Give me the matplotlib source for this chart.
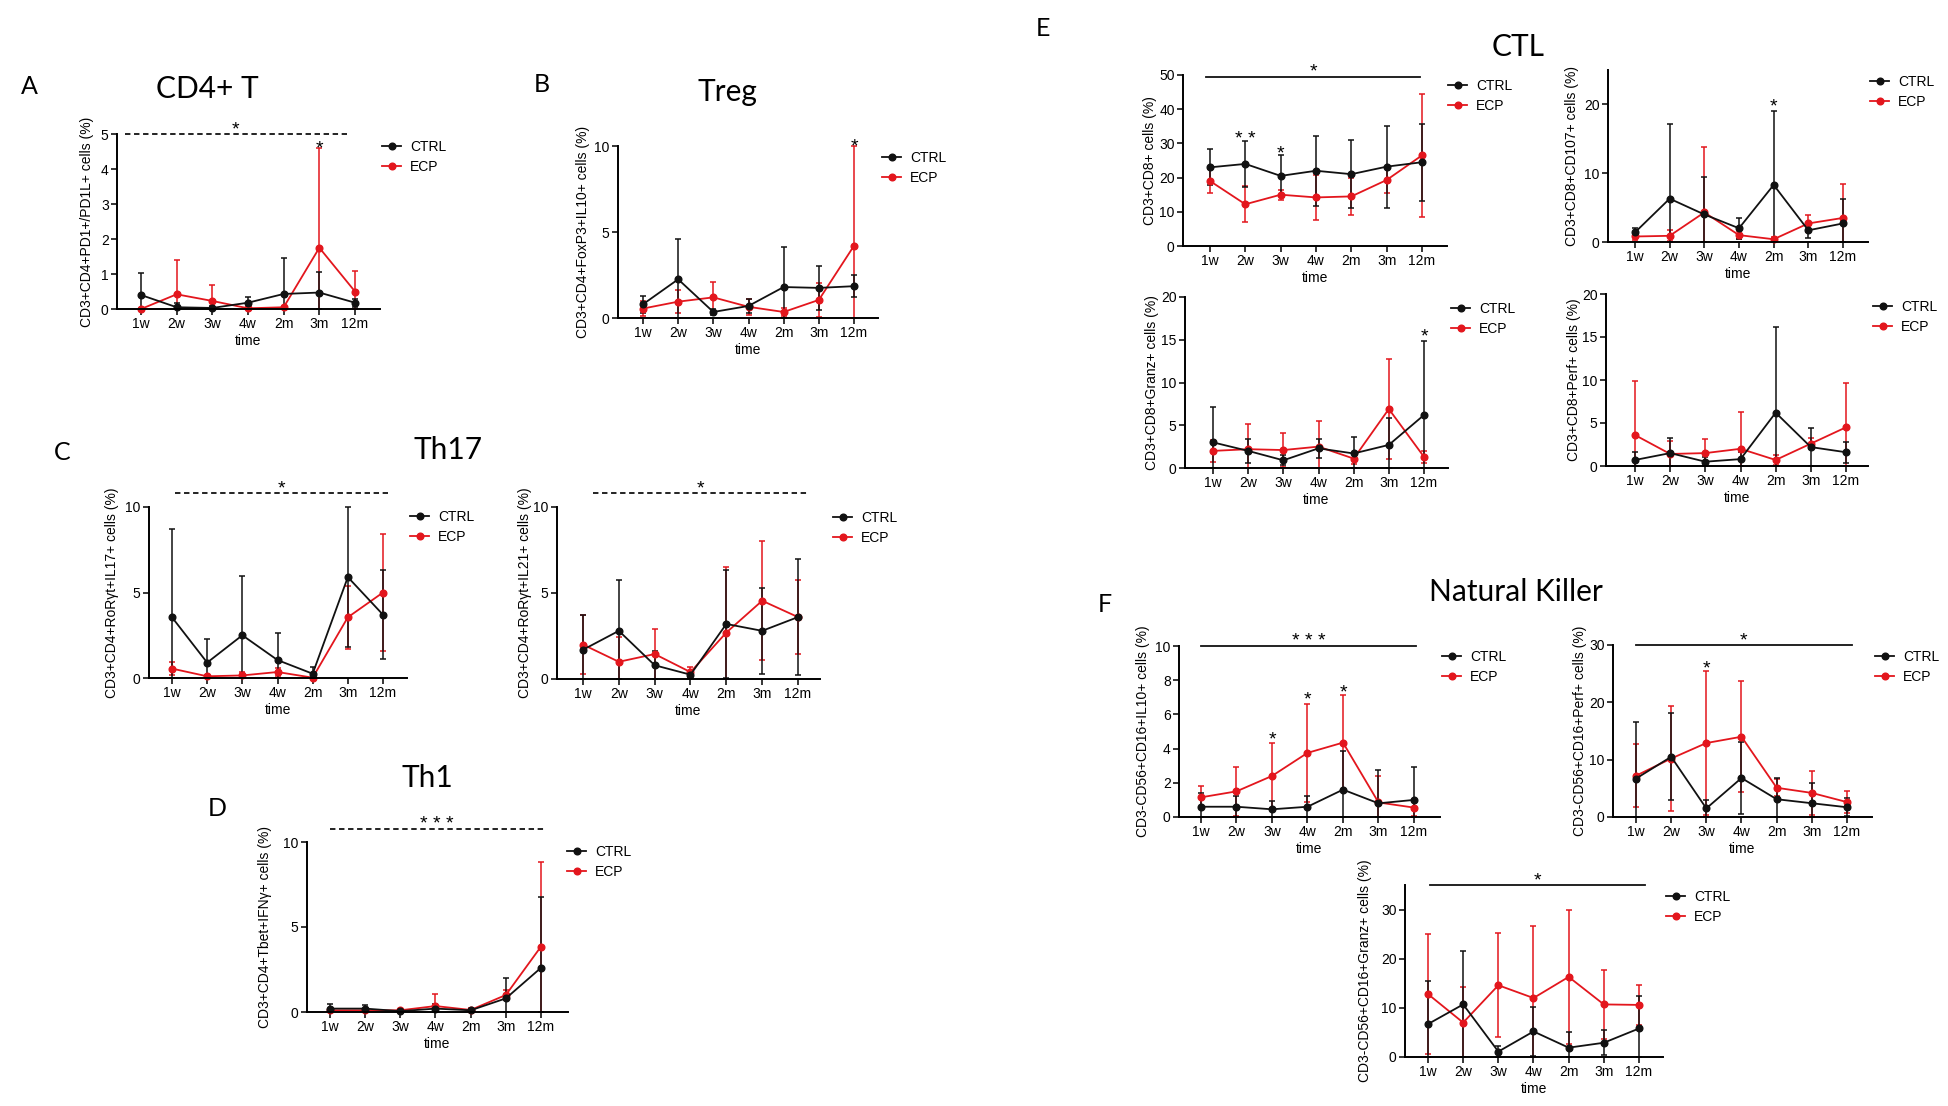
import matplotlib
matplotlib.use('Agg')
import matplotlib.pyplot as plt
from matplotlib.lines import Line2D

plt.rcParams['font.family'] = ['Liberation Sans', 'DejaVu Sans']

W, H = 1949, 1106
RED = '#e3161d'
BLACK = '#111111'

time_labels = ['1w', '2w', '3w', '4w', '2m', '3m', '12m']

# A  CD4+ T
a_label = 'CD3+CD4+PD1+/PD1L+ cells (%)'
a_ctrl = [0.40, 0.05, 0.03, 0.18, 0.43, 0.47, 0.18]
a_ctrl_sd = [0.63, 0.12, 0.05, 0.17, 1.04, 0.58, 0.12]
a_ecp = [0.00, 0.42, 0.23, 0.02, 0.05, 1.75, 0.50]
a_ecp_sd = [0.02, 0.98, 0.47, 0.03, 0.03, 2.85, 0.60]

# B  Treg
b_label = 'CD3+CD4+FoxP3+IL10+ cells (%)'
b_ctrl = [0.80, 2.25, 0.35, 0.70, 1.80, 1.75, 1.85]
b_ctrl_sd = [0.50, 2.35, 0.15, 0.40, 2.35, 1.30, 0.65]
b_ecp = [0.55, 0.95, 1.20, 0.65, 0.35, 1.05, 4.20]
b_ecp_sd = [0.45, 0.65, 0.90, 0.45, 0.25, 1.00, 5.80]

# C  Th17 (IL17 / IL21)
c1_label = 'CD3+CD4+RoRγt+IL17+ cells (%)'
c1_ctrl = [3.55, 0.90, 2.50, 1.05, 0.25, 5.90, 3.70]
c1_ctrl_sd = [5.15, 1.40, 3.45, 1.60, 0.40, 4.10, 2.60]
c1_ecp = [0.55, 0.10, 0.15, 0.35, 0.02, 3.55, 5.00]
c1_ecp_sd = [0.40, 0.10, 0.20, 0.25, 0.05, 1.85, 3.45]

c2_label = 'CD3+CD4+RoRγt+IL21+ cells (%)'
c2_ctrl = [1.70, 2.80, 0.80, 0.25, 3.20, 2.80, 3.60]
c2_ctrl_sd = [2.05, 2.95, 0.85, 0.20, 3.15, 2.50, 3.35]
c2_ecp = [2.00, 1.00, 1.45, 0.40, 2.70, 4.55, 3.60]
c2_ecp_sd = [1.70, 1.45, 1.45, 0.30, 3.80, 3.45, 2.15]

# D  Th1
d_label = 'CD3+CD4+Tbet+IFNγ+ cells (%)'
d_ctrl = [0.20, 0.20, 0.05, 0.20, 0.10, 0.80, 2.60]
d_ctrl_sd = [0.25, 0.20, 0.05, 0.30, 0.10, 1.20, 4.15]
d_ecp = [0.10, 0.10, 0.10, 0.35, 0.12, 1.00, 3.85]
d_ecp_sd = [0.10, 0.10, 0.10, 0.70, 0.10, 0.30, 4.95]

# E  CTL
e1_label = 'CD3+CD8+ cells (%)'
e1_ctrl = [23.0, 24.0, 20.5, 22.0, 21.0, 23.2, 24.5]
e1_ctrl_sd = [5.3, 6.8, 6.0, 10.2, 10.0, 12.0, 11.2]
e1_ecp = [19.0, 12.2, 15.0, 14.2, 14.5, 19.3, 26.5]
e1_ecp_sd = [3.5, 5.2, 1.5, 6.5, 5.3, 3.8, 18.0]

e2_label = 'CD3+CD8+CD107+ cells (%)'
e2_ctrl = [1.4, 6.3, 4.0, 2.0, 8.3, 1.7, 2.7]
e2_ctrl_sd = [0.6, 10.9, 5.5, 1.5, 10.7, 1.1, 3.5]
e2_ecp = [0.8, 0.9, 4.3, 1.0, 0.4, 2.7, 3.5]
e2_ecp_sd = [0.5, 0.8, 9.5, 0.6, 0.3, 1.2, 4.9]

e3_label = 'CD3+CD8+Granz+ cells (%)'
e3_ctrl = [3.0, 2.0, 0.9, 2.3, 1.7, 2.7, 6.2]
e3_ctrl_sd = [4.1, 1.4, 0.6, 1.1, 1.9, 3.2, 8.7]
e3_ecp = [2.0, 2.2, 2.1, 2.5, 1.1, 6.9, 1.3]
e3_ecp_sd = [1.3, 2.9, 2.0, 3.0, 0.6, 5.8, 0.7]

e4_label = 'CD3+CD8+Perf+ cells (%)'
e4_ctrl = [0.7, 1.5, 0.5, 0.8, 6.2, 2.2, 1.6]
e4_ctrl_sd = [0.9, 1.8, 0.5, 0.8, 10.0, 2.2, 1.2]
e4_ecp = [3.6, 1.4, 1.5, 2.0, 0.7, 2.6, 4.5]
e4_ecp_sd = [6.3, 1.5, 1.6, 4.3, 0.6, 0.6, 5.1]

# F  Natural Killer
f1_label = 'CD3-CD56+CD16+IL10+ cells (%)'
f1_ctrl = [0.60, 0.60, 0.45, 0.60, 1.60, 0.80, 1.00]
f1_ctrl_sd = [0.80, 0.60, 0.50, 0.60, 2.25, 1.95, 1.95]
f1_ecp = [1.15, 1.50, 2.40, 3.75, 4.35, 0.85, 0.55]
f1_ecp_sd = [0.65, 1.45, 1.90, 2.85, 2.80, 1.55, 0.50]

f2_label = 'CD3-CD56+CD16+Perf+ cells (%)'
f2_ctrl = [6.7, 10.5, 1.5, 6.8, 3.1, 2.4, 1.7]
f2_ctrl_sd = [9.8, 7.6, 1.5, 6.2, 3.7, 3.6, 1.6]
f2_ecp = [7.2, 10.2, 12.9, 14.0, 5.1, 4.2, 2.6]
f2_ecp_sd = [5.5, 9.2, 12.6, 9.7, 1.5, 3.9, 1.9]

f3_label = 'CD3-CD56+CD16+Granz+ cells (%)'
f3_ctrl = [6.7, 10.7, 1.1, 5.2, 1.9, 2.9, 5.8]
f3_ctrl_sd = [8.8, 10.8, 1.1, 5.0, 3.2, 2.5, 6.7]
f3_ecp = [12.8, 7.0, 14.6, 12.0, 16.3, 10.7, 10.6]
f3_ecp_sd = [12.2, 7.3, 10.6, 14.6, 13.7, 7.1, 4.0]

# layout in pixels: (spine left, axis right, y=0 row, y=max row, 1w tick, 12m tick)
panels = [
    dict(data=(a_ctrl, a_ctrl_sd, a_ecp, a_ecp_sd), ylabel=a_label,
         box=(117, 380, 309, 134, 141, 355), ymax=5, yticks=[0, 1, 2, 3, 4, 5],
         ylab_x=87, legend=(382, 157),
         bracket=('--', 5.0, -0.45, 5.77, '*'), stars=[(5, 4.75, '*')]),
    dict(data=(b_ctrl, b_ctrl_sd, b_ecp, b_ecp_sd), ylabel=b_label,
         box=(618, 878, 318, 146, 643, 854), ymax=10, yticks=[0, 5, 10],
         ylab_x=583, legend=(882, 168), bracket=None, stars=[(6, 10.3, '*')]),
    dict(data=(c1_ctrl, c1_ctrl_sd, c1_ecp, c1_ecp_sd), ylabel=c1_label,
         box=(149, 407, 678, 507, 172, 383), ymax=10, yticks=[0, 5, 10],
         ylab_x=112, legend=(410, 527),
         bracket=('--', 10.8, 0.09, 6.14, '*'), stars=[]),
    dict(data=(c2_ctrl, c2_ctrl_sd, c2_ecp, c2_ecp_sd), ylabel=c2_label,
         box=(557, 820, 679, 507, 583, 798), ymax=10, yticks=[0, 5, 10],
         ylab_x=525, legend=(833, 528),
         bracket=('--', 10.8, 0.28, 6.27, '*'), stars=[]),
    dict(data=(d_ctrl, d_ctrl_sd, d_ecp, d_ecp_sd), ylabel=d_label,
         box=(307, 568, 1012, 842, 330, 541), ymax=10, yticks=[0, 5, 10],
         ylab_x=265, legend=(567, 862),
         bracket=('--', 10.76, 0.0, 6.1, '* * *'), stars=[]),
    dict(data=(e1_ctrl, e1_ctrl_sd, e1_ecp, e1_ecp_sd), ylabel=e1_label,
         box=(1183, 1447, 246, 75, 1210, 1422), ymax=50, yticks=[0, 10, 20, 30, 40, 50],
         ylab_x=1150, legend=(1448, 96),
         bracket=('-', 49.5, -0.1, 5.95, '*'), stars=[(1, 33.0, '* *'), (2, 28.7, '*')]),
    dict(data=(e2_ctrl, e2_ctrl_sd, e2_ecp, e2_ecp_sd), ylabel=e2_label,
         box=(1608, 1868, 242, 70, 1635, 1843), ymax=25, yticks=[0, 10, 20],
         ylab_x=1572, legend=(1870, 92), bracket=None, stars=[(4, 20.6, '*')]),
    dict(data=(e3_ctrl, e3_ctrl_sd, e3_ecp, e3_ecp_sd), ylabel=e3_label,
         box=(1185, 1448, 468, 297, 1213, 1424), ymax=20, yticks=[0, 5, 10, 15, 20],
         ylab_x=1152, legend=(1451, 319), bracket=None, stars=[(6, 16.1, '*')]),
    dict(data=(e4_ctrl, e4_ctrl_sd, e4_ecp, e4_ecp_sd), ylabel=e4_label,
         box=(1606, 1868, 466, 294, 1635, 1846), ymax=20, yticks=[0, 5, 10, 15, 20],
         ylab_x=1574, legend=(1873, 317), bracket=None, stars=[]),
    dict(data=(f1_ctrl, f1_ctrl_sd, f1_ecp, f1_ecp_sd), ylabel=f1_label,
         box=(1179, 1440, 817, 646, 1201, 1414), ymax=10, yticks=[0, 2, 4, 6, 8, 10],
         ylab_x=1143, legend=(1442, 667),
         bracket=('-', 10.0, 0.0, 6.05, '* * *'),
         stars=[(2, 4.9, '*'), (3, 7.25, '*'), (4, 7.65, '*')]),
    dict(data=(f2_ctrl, f2_ctrl_sd, f2_ecp, f2_ecp_sd), ylabel=f2_label,
         box=(1613, 1872, 817, 645, 1636, 1847), ymax=30, yticks=[0, 10, 20, 30],
         ylab_x=1580, legend=(1875, 667),
         bracket=('-', 30.0, 0.0, 6.13, '*'), stars=[(2, 27.0, '*')]),
    dict(data=(f3_ctrl, f3_ctrl_sd, f3_ecp, f3_ecp_sd), ylabel=f3_label,
         box=(1405, 1663, 1057, 885, 1428, 1639), ymax=35, yticks=[0, 10, 20, 30],
         ylab_x=1365, legend=(1666, 907),
         bracket=('-', 35.0, 0.05, 6.17, '*'), stars=[]),
]

titles = [('CD4+ T', 207, 89), ('Treg', 727, 92), ('Th17', 448, 450),
          ('Th1', 427, 778), ('CTL', 1518, 47), ('Natural Killer', 1516, 592)]
letters = [('A', 29, 87), ('B', 542, 85), ('C', 62, 452), ('D', 217, 808),
           ('E', 1043, 28), ('F', 1105, 605)]

fig = plt.figure(figsize=(W / 100, H / 100), dpi=100)


def draw_series(ax, mean, sd, color):
    lower = [min(s, m) for m, s in zip(mean, sd)]
    eb = ax.errorbar(range(len(mean)), mean, yerr=[lower, sd], color=color,
                     marker='o', ms=4.8, lw=1.3, elinewidth=1.1,
                     capsize=2.5, capthick=1.1)
    eb.lines[0].set_clip_on(False)
    for art in list(eb.lines[1]) + list(eb.lines[2]):
        art.set_clip_on(False)


for p in panels:
    left, right, y0, ytop, t0, t6 = p['box']
    ax = fig.add_axes([left / W, 1 - y0 / H, (right - left) / W, (y0 - ytop) / H])
    step = (t6 - t0) / 6
    ax.set_xlim((left - t0) / step, (right - t0) / step)
    ax.set_ylim(0, p['ymax'])

    ctrl, ctrl_sd, ecp, ecp_sd = p['data']
    draw_series(ax, ecp, ecp_sd, RED)
    draw_series(ax, ctrl, ctrl_sd, BLACK)

    for s in ['top', 'right']:
        ax.spines[s].set_visible(False)
    for s in ['left', 'bottom']:
        ax.spines[s].set_linewidth(1.4)
    ax.tick_params(width=1.1, length=4, labelsize=10, pad=2)
    ax.set_xticks(range(7))
    ax.set_xticklabels(time_labels)
    ax.set_yticks(p['yticks'])
    ax.set_xlabel('time', fontsize=10, labelpad=2)
    ax.set_ylabel(p['ylabel'], fontsize=10)
    ax.yaxis.label.set_va('center')
    ax.yaxis.set_label_coords((p['ylab_x'] - left) / (right - left), 0.5)

    if p['bracket']:
        ls, yv, xa, xb, txt = p['bracket']
        line = ax.plot([xa, xb], [yv, yv], color=BLACK, lw=1.3, ls=ls, clip_on=False)[0]
        if ls == '--':
            line.set_dashes([3, 2])
        ax.annotate(txt, xy=((xa + xb) / 2, yv), xytext=(0, 0), textcoords='offset points',
                    ha='center', va='baseline', fontsize=14, annotation_clip=False)
    for xs, ys, txt in p['stars']:
        ax.annotate(txt, xy=(xs, ys), xytext=(0, -8), textcoords='offset points',
                    ha='center', va='baseline', fontsize=14, annotation_clip=False)

    handles = [Line2D([], [], color=BLACK, marker='o', ms=4.8, lw=1.3, label='CTRL'),
               Line2D([], [], color=RED, marker='o', ms=4.8, lw=1.3, label='ECP')]
    lx, ly = p['legend']
    ax.legend(handles=handles, loc='center left', bbox_to_anchor=(lx / W, 1 - ly / H),
              bbox_transform=fig.transFigure, frameon=False, fontsize=10,
              borderpad=0, borderaxespad=0, handlelength=1.4, handletextpad=0.6,
              labelspacing=0.45)

for txt, x, y in titles:
    fig.text(x / W, 1 - y / H, txt, ha='center', va='center', fontsize=21.5,
             family=['Lato', 'DejaVu Sans'])
for txt, x, y in letters:
    fig.text(x / W, 1 - y / H, txt, ha='center', va='center', fontsize=18,
             family=['Lato', 'DejaVu Sans'])

fig.savefig('out.png', dpi=100)
